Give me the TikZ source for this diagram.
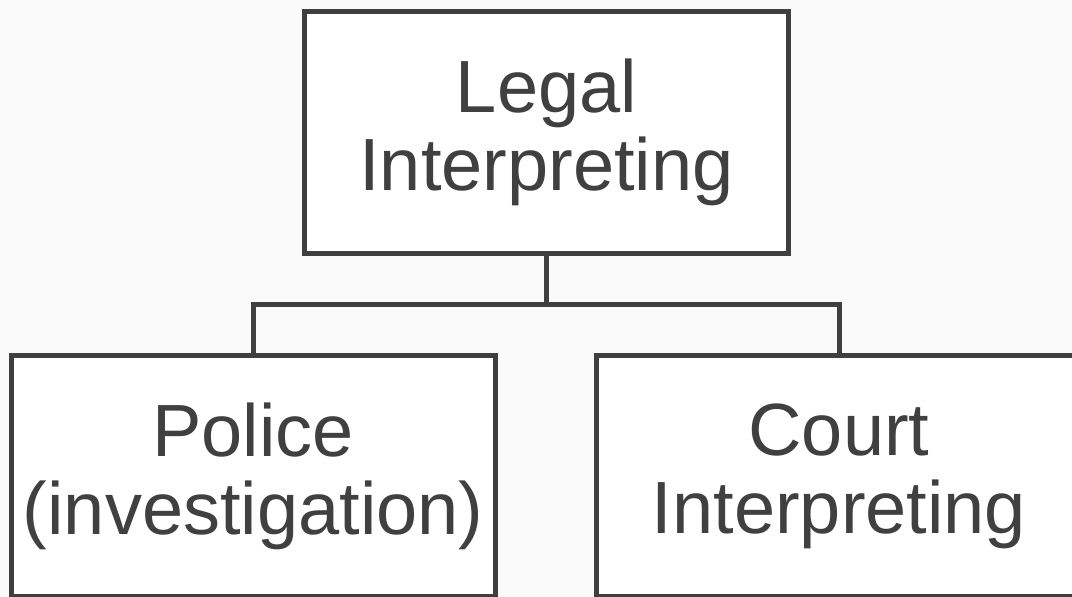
\documentclass[tikz,border=0pt]{standalone}
\usepackage{fontspec}
\setmainfont{Liberation Sans}
\definecolor{bg}{HTML}{FAFAFA}
\definecolor{ink}{HTML}{3F3F3F}
\definecolor{txt}{HTML}{404040}
\begin{document}
\begin{tikzpicture}[x=1pt,y=1pt,
  box/.style={draw=ink, line width=5pt, fill=white, inner sep=0pt,
    text=txt, align=center, font=\fontsize{74}{78}\selectfont},
  conn/.style={draw=ink, line width=5pt}]
\clip (0,0) rectangle (1072,597);
\fill[bg] (0,0) rectangle (1072,597);
\node[box, minimum width=484pt, minimum height=242pt] (top) at (546.5,464.3) {Legal\\Interpreting};
\node[box, minimum width=484.5pt, minimum height=241pt] (left) at (253.25,120.7) {Police\\(investigation)};
\node[box, minimum width=484.5pt, minimum height=241pt] (right) at (839,120.7) {Court\\Interpreting};
\coordinate (mid) at (546.5,292);
\draw[conn] (top.south) -- (mid);
\draw[conn] (left.north) |- (mid) -| (right.north);
\end{tikzpicture}
\end{document}
